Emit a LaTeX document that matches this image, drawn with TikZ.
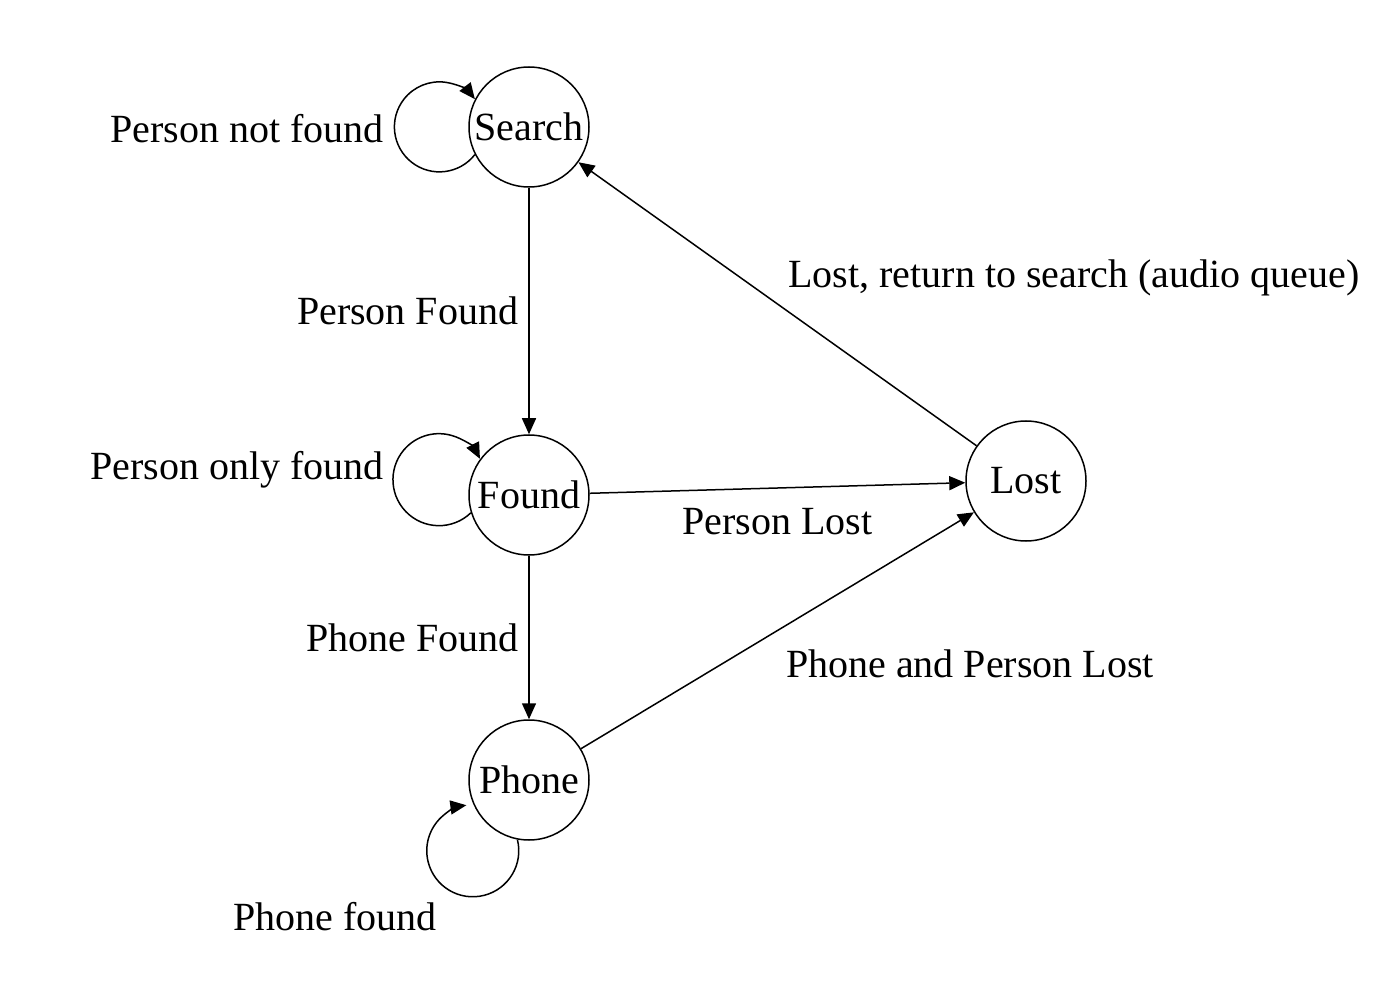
\documentclass[tikz,border=0pt]{standalone}
\usepackage{fontspec}
\setmainfont{Liberation Serif}
\usepackage{tikz}
\usetikzlibrary{arrows.meta,positioning}

\begin{document}
\begin{tikzpicture}[x=0.5pt,y=-0.5pt]
\tikzset{
	state node/.style = {circle, draw, line width=0.75pt, minimum size=60pt, inner sep=0, font=\fontsize{20}{24}\selectfont},
	text node/.style = {inner sep=2pt, font=\fontsize{20}{24}\selectfont},
	trans/.style = {line width=0.75pt, -{Triangle[length=8pt,width=7pt]}},
}
\useasboundingbox (0,0) rectangle (1388,984);

\node(search)[state node] at (529,127){Search};
\node(found)[state node] at (529,495){Found};
\node(phone)[state node] at (529,780){Phone};
\node(lost)[state node] at (1026,481){Lost};

\draw[trans] (search) -- node[text node, left=3pt]{Person Found} (found);
\draw[trans] (found) -- node[text node, left=3pt]{Phone Found} (phone);
\draw[trans] (found) -- node[text node, below=8pt]{Person Lost} (lost);
\draw[trans] (phone) -- (lost);
\draw[trans] (lost) -- (search);

% self loops
\draw[trans] (search.207) arc[start angle=-38, end angle=-322, radius=22.5pt];
\draw[trans] (found.197) arc[start angle=-46, end angle=-333, radius=23pt];
\draw[trans] (phone.259) arc[start angle=14, end angle=-262, radius=23pt];

\node[text node, anchor=east] at (388,129){Person not found};
\node[text node, anchor=east] at (388,470){Person only found};
\node[text node] at (335,917){Phone found};
\node[text node] at (1074,278){Lost, return to search (audio queue)};
\node[text node] at (970,664){Phone and Person Lost};

\end{tikzpicture}
\end{document}
